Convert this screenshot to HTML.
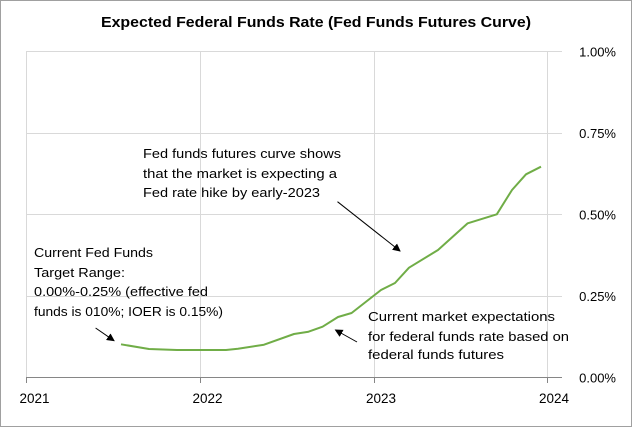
<!DOCTYPE html>
<html><head><style>body{margin:0;background:#fff}svg{display:block}</style></head><body>
<svg width="632" height="427" xmlns="http://www.w3.org/2000/svg" font-family="Liberation Sans, sans-serif">
<rect x="0.5" y="0.5" width="631" height="426" fill="#fff" stroke="#a0a0a0"/>
<text x="316" y="27" text-anchor="middle" font-size="14.5" font-weight="bold" textLength="430" lengthAdjust="spacingAndGlyphs">Expected Federal Funds Rate (Fed Funds Futures Curve)</text>
<g stroke="#d9d9d9" stroke-width="1">
<line x1="26.5" y1="51.5" x2="562" y2="51.5"/>
<line x1="26.5" y1="133.5" x2="562" y2="133.5"/>
<line x1="26.5" y1="214.5" x2="562" y2="214.5"/>
<line x1="26.5" y1="296.5" x2="562" y2="296.5"/>
<line x1="26.5" y1="51" x2="26.5" y2="378"/>
<line x1="200.5" y1="51" x2="200.5" y2="378"/>
<line x1="374.5" y1="51" x2="374.5" y2="378"/>
<line x1="547.5" y1="51" x2="547.5" y2="378"/>
</g>
<g stroke="#868686" stroke-width="1">
<line x1="26.5" y1="377.5" x2="562" y2="377.5"/>
<line x1="26.5" y1="377" x2="26.5" y2="383"/>
<line x1="200.5" y1="377" x2="200.5" y2="383"/>
<line x1="374.5" y1="377" x2="374.5" y2="383"/>
<line x1="547.5" y1="377" x2="547.5" y2="383"/>
</g>
<g font-size="13" fill="#000" text-anchor="end">
<text x="616" y="56.5">1.00%</text>
<text x="616" y="138">0.75%</text>
<text x="616" y="219.5">0.50%</text>
<text x="616" y="301">0.25%</text>
<text x="616" y="382.5">0.00%</text>
</g>
<g font-size="13.5" text-anchor="middle">
<text x="34.5" y="403">2021</text>
<text x="207.5" y="403">2022</text>
<text x="381" y="403">2023</text>
<text x="554" y="403">2024</text>
</g>
<polyline fill="none" stroke="#70ad47" stroke-width="2" stroke-linejoin="round" points="121,344.3 149,349 177,350 226,350 238,348.7 264,344.7 294,334 308.5,331.7 322.6,326.7 338,317 351.6,313 381,290 395,283 409,267.7 438,250 467.7,223.3 496.8,214.3 512,190 526,174.3 541,166.7"/>
<defs><marker id="a" markerWidth="8" markerHeight="8" refX="7" refY="4" orient="auto" markerUnits="userSpaceOnUse"><path d="M0,0 L8,4 L0,8 z" fill="#000"/></marker></defs>
<g stroke="#000" stroke-width="1" marker-end="url(#a)">
<line x1="337.5" y1="201.7" x2="400" y2="251"/>
<line x1="357" y1="342" x2="335.5" y2="330"/>
<line x1="95.6" y1="328" x2="114" y2="340.7"/>
</g>
<g font-size="13" lengthAdjust="spacingAndGlyphs">
<text x="143" y="158" textLength="198" lengthAdjust="spacingAndGlyphs">Fed funds futures curve shows</text>
<text x="143" y="178" textLength="194" lengthAdjust="spacingAndGlyphs">that the market is expecting a</text>
<text x="143" y="197" textLength="177" lengthAdjust="spacingAndGlyphs">Fed rate hike by early-2023</text>
<text x="34" y="257" textLength="119" lengthAdjust="spacingAndGlyphs">Current Fed Funds</text>
<text x="34" y="277" textLength="91" lengthAdjust="spacingAndGlyphs">Target Range:</text>
<text x="34" y="296" textLength="174" lengthAdjust="spacingAndGlyphs">0.00%-0.25% (effective fed</text>
<text x="34" y="316" textLength="189" lengthAdjust="spacingAndGlyphs">funds is 010%; IOER is 0.15%)</text>
<text x="368" y="321" textLength="187" lengthAdjust="spacingAndGlyphs">Current market expectations</text>
<text x="368" y="341" textLength="201" lengthAdjust="spacingAndGlyphs">for federal funds rate based on</text>
<text x="368" y="359" textLength="136" lengthAdjust="spacingAndGlyphs">federal funds futures</text>
</g>
</svg>
</body></html>
